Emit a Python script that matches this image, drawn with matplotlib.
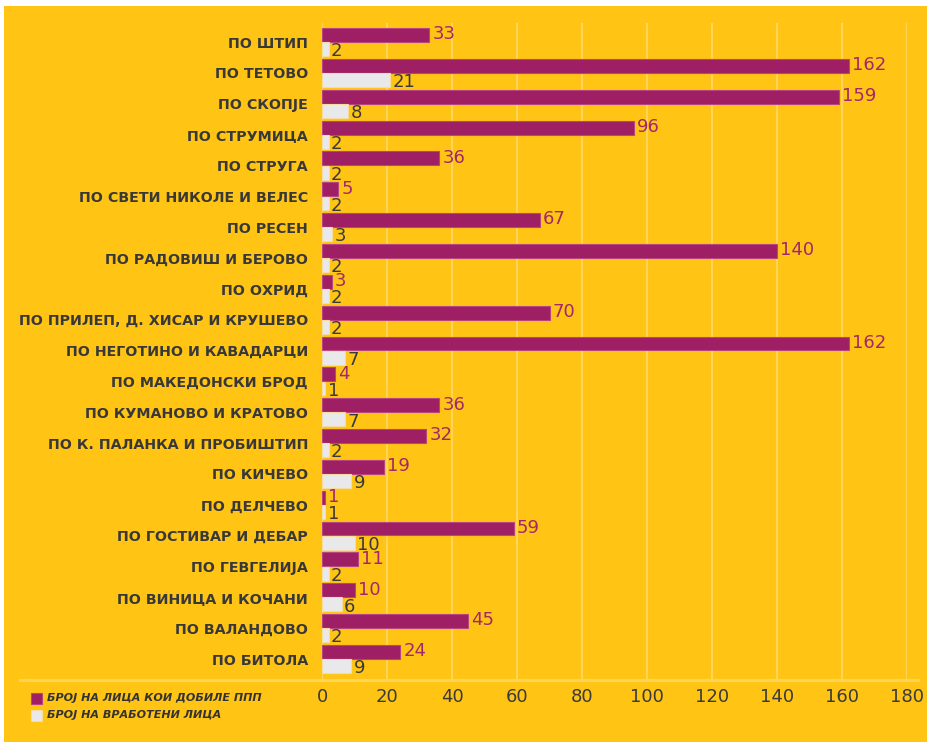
import matplotlib
matplotlib.use("Agg")
import matplotlib.pyplot as plt
from matplotlib.patches import Rectangle
from matplotlib.lines import Line2D
import numpy as np

categories = [
    "ПО ШТИП", "ПО ТЕТОВО", "ПО СКОПЈЕ", "ПО СТРУМИЦА", "ПО СТРУГА",
    "ПО СВЕТИ НИКОЛЕ И ВЕЛЕС", "ПО РЕСЕН", "ПО РАДОВИШ И БЕРОВО", "ПО ОХРИД",
    "ПО ПРИЛЕП, Д. ХИСАР И КРУШЕВО", "ПО НЕГОТИНО И КАВАДАРЦИ",
    "ПО МАКЕДОНСКИ БРОД", "ПО КУМАНОВО И КРАТОВО", "ПО К. ПАЛАНКА И ПРОБИШТИП",
    "ПО КИЧЕВО", "ПО ДЕЛЧЕВО", "ПО ГОСТИВАР И ДЕБАР", "ПО ГЕВГЕЛИЈА",
    "ПО ВИНИЦА И КОЧАНИ", "ПО ВАЛАНДОВО", "ПО БИТОЛА",
]
ppp_values = [33, 162, 159, 96, 36, 5, 67, 140, 3, 70, 162, 4, 36, 32, 19, 1, 59, 11, 10, 45, 24]
employee_values = [2, 21, 8, 2, 2, 2, 3, 2, 2, 2, 7, 1, 7, 2, 9, 1, 10, 2, 6, 2, 9]
series_names = ["БРОЈ НА ЛИЦА КОИ ДОБИЛЕ ППП", "БРОЈ НА ВРАБОТЕНИ ЛИЦА"]
x_ticks = [0, 20, 40, 60, 80, 100, 120, 140, 160, 180]

YELLOW = "#FFC414"
PURPLE = "#9E1F63"
PURPLE_TXT = "#A3286A"
LIGHT = "#E9E9EB"
DARK = "#3A3A3A"
GRID = "#FFD65A"

plt.rcParams['font.family'] = ['DejaVu Sans']

W, H = 927, 742
fig = plt.figure(figsize=(W / 100, H / 100), dpi=100, facecolor="white")
fig.patches.append(Rectangle((4 / W, 0), 1 - 4 / W, 1 - 6 / H, transform=fig.transFigure,
                             facecolor=YELLOW, edgecolor="none", zorder=-10))

ax = fig.add_axes([322 / W, 1 - 680 / H, (907 - 322) / W, (680 - 23) / H])
ax.set_facecolor("none")

y = np.arange(len(categories))
bh = 0.45
off = 0.23
ax.barh(y - off, ppp_values, height=bh, color=PURPLE, edgecolor="#B8457F", linewidth=0.8, zorder=3)
ax.barh(y + off, employee_values, height=bh, color=LIGHT, edgecolor="#F3DDA0", linewidth=0.8, zorder=3)

for yi, v in zip(y, ppp_values):
    ax.text(v + 1.0, yi - off - 0.02, str(v), color=PURPLE_TXT, fontsize=13, va="center", ha="left",
            zorder=4)
for yi, v in zip(y, employee_values):
    ax.text(v + 0.8, yi + off + 0.07, str(v), color=DARK, fontsize=13, va="center", ha="left",
            zorder=4)

ax.set_xlim(0, 180)
ax.set_ylim(len(categories) - 1 + 0.68, -0.62)
ax.set_xticks(x_ticks)
ax.set_xticklabels([str(t) for t in x_ticks], fontsize=13, color=DARK)
ax.set_yticks(y)
ax.set_yticklabels(categories, fontsize=10.3, color="#383838", fontweight="bold")
ax.tick_params(axis="both", length=0)
ax.tick_params(axis="y", pad=10)
ax.tick_params(axis="x", pad=6)
for s in ax.spines.values():
    s.set_visible(False)
ax.grid(axis="x", color=GRID, linewidth=1.5, zorder=0)
ax.set_axisbelow(True)

fig.lines.append(Line2D([20 / W, 918 / W], [1 - 680 / H, 1 - 680 / H], transform=fig.transFigure,
                        color=GRID, linewidth=2, zorder=1))

# legend
for i, (name, col, ec) in enumerate(zip(series_names, [PURPLE, LIGHT], ["#B8457F", "#F3DDA0"])):
    yc = 698 + i * 17
    fig.patches.append(Rectangle((31 / W, 1 - (yc + 6) / H), 11 / W, 11 / H, transform=fig.transFigure,
                                 facecolor=col, edgecolor=ec, linewidth=0.8))
    fig.text(47 / W, 1 - yc / H, name, fontsize=8, fontstyle="italic", fontweight="bold",
             color="#333333", va="center", ha="left")

fig.savefig("out.png", dpi=100, facecolor=fig.get_facecolor())
